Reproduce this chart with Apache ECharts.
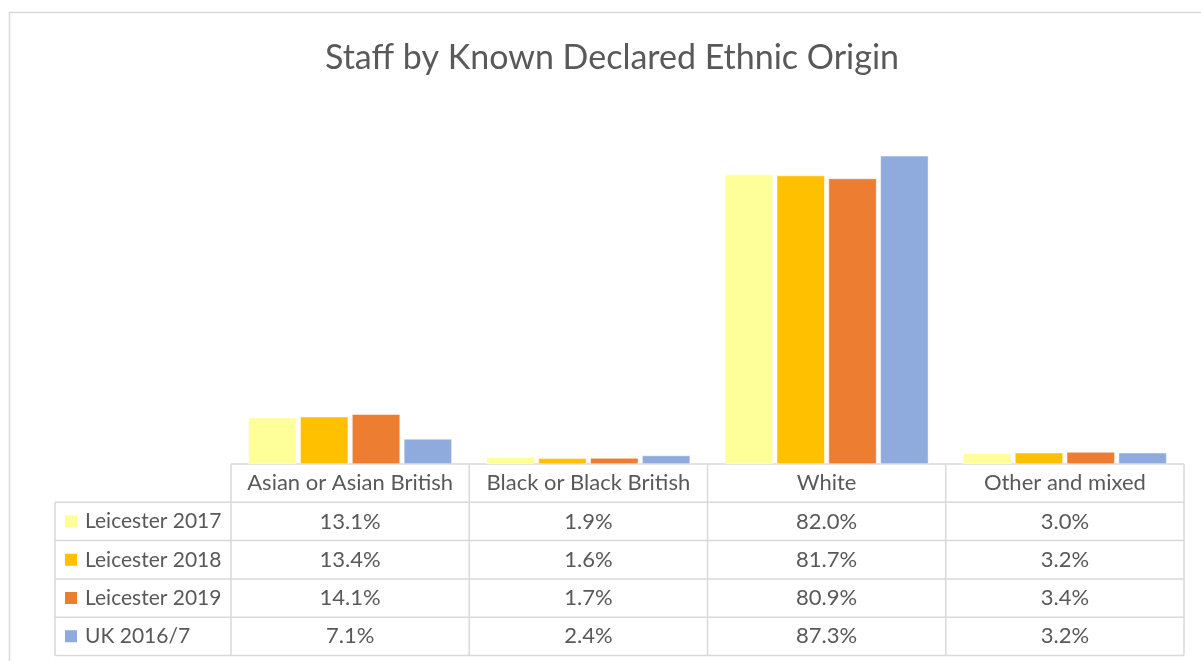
<!DOCTYPE html>
<html>
<head>
<meta charset="utf-8">
<title>Staff by Known Declared Ethnic Origin</title>
<script src="https://cdn.jsdelivr.net/npm/echarts@6/dist/echarts.min.js"></script>
<style>
  html, body { margin: 0; padding: 0; background: #fff; }
  #main { width: 1201px; height: 661px; }
</style>
</head>
<body>
<div id="main"></div>
<script>
// data
var categories = ['Asian or Asian British', 'Black or Black British', 'White', 'Other and mixed'];
var seriesNames = ['Leicester 2017', 'Leicester 2018', 'Leicester 2019', 'UK 2016/7'];
var leicester2017 = [13.1, 1.9, 82.0, 3.0];
var leicester2018 = [13.4, 1.6, 81.7, 3.2];
var leicester2019 = [14.1, 1.7, 80.9, 3.4];
var uk2016 = [7.1, 2.4, 87.3, 3.2];
var colors = ['#FFFF99', '#FFC000', '#ED7D31', '#8FAADC'];

;(function(){
  var chart = echarts.init(document.getElementById('main'));
  var font = 'Lato, "Noto Sans", sans-serif';
  var textColor = '#595959';
  var lineColor = '#d9d9d9';

  // layout of the plot + data table
  var plotL = 231, plotR = 1184, plotT = 111, axisY = 464;
  var rowH = 38.3;
  var legendL = 55;
  var allSeries = [leicester2017, leicester2018, leicester2019, uk2016];

  // x axis label = header cell plus the values under it
  function cellText(value, idx) {
    var i = categories.indexOf(value);
    var lines = [value];
    for (var s = 0; s < allSeries.length; s++) {
      lines.push(allSeries[s][i].toFixed(1) + '%');
    }
    return lines.join('\n');
  }

  var series = allSeries.map(function(d, s){
    return {
      name: seriesNames[s],
      type: 'bar',
      data: d,
      barWidth: 48,
      barGap: '8%',
      itemStyle: { color: colors[s], borderColor: '#fff', borderWidth: 0.5 }
    };
  });

  // table borders
  var tableBottom = axisY + rowH * 5;
  var gfx = [];
  function hline(x1, x2, y) {
    gfx.push({ type: 'line', shape: { x1: x1, y1: y, x2: x2, y2: y }, style: { stroke: lineColor, lineWidth: 1.5 }, silent: true });
  }
  function vline(x, y1, y2) {
    gfx.push({ type: 'line', shape: { x1: x, y1: y1, x2: x, y2: y2 }, style: { stroke: lineColor, lineWidth: 1.5 }, silent: true });
  }
  hline(plotL, plotR, axisY);
  for (var r = 1; r <= 5; r++) hline(legendL, plotR, axisY + rowH * r);
  vline(legendL, axisY + rowH, tableBottom);
  var colW = (plotR - plotL) / categories.length;
  for (var c = 0; c <= categories.length; c++) vline(plotL + colW * c, axisY, tableBottom);
  // chart frame
  gfx.push({ type: 'rect', shape: { x: 9.5, y: 12.5, width: 1260, height: 700 }, style: { fill: 'none', stroke: lineColor, lineWidth: 1.5 }, silent: true, z: -1 });

  var option = {
    animation: false,
    textStyle: { fontFamily: font },
    title: {
      text: 'Staff by Known Declared Ethnic Origin',
      left: 320,
      top: 36,
      textStyle: { fontFamily: font, fontSize: 34, fontWeight: 'normal', color: textColor }
    },
    legend: {
      orient: 'vertical',
      left: 63,
      top: axisY + rowH + rowH / 2 - 11,
      padding: 0,
      itemGap: rowH - 22,
      itemWidth: 14,
      itemHeight: 14,
      icon: 'rect',
      data: seriesNames,
      textStyle: { fontFamily: font, fontSize: 21, color: textColor, lineHeight: 22, padding: [0, 0, 0, 2] }
    },
    grid: { left: plotL, right: 1201 - plotR, top: plotT, bottom: 661 - axisY },
    xAxis: {
      type: 'category',
      data: categories,
      axisLine: { show: false },
      axisTick: { show: false },
      axisLabel: {
        margin: 0,
        interval: 0,
        fontFamily: font,
        fontSize: 22,
        lineHeight: rowH,
        color: textColor,
        formatter: cellText
      }
    },
    yAxis: {
      type: 'value',
      min: 0,
      max: 100,
      show: false
    },
    series: series,
    graphic: gfx
  };

  chart.setOption(option);
})();
</script>
</body>
</html>
